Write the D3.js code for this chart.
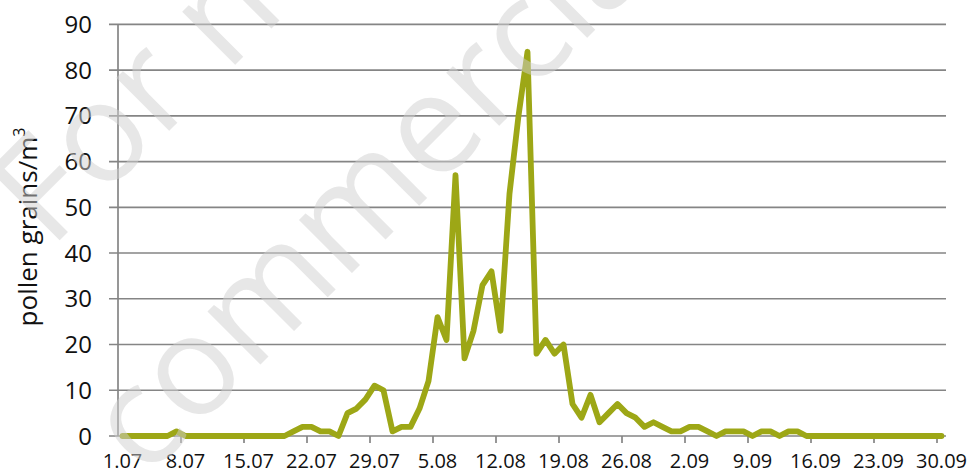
<!DOCTYPE html>
<html>
<head>
<meta charset="utf-8">
<script src="https://cdn.jsdelivr.net/npm/d3@7"></script>
<style>
  html, body { margin: 0; padding: 0; background: #ffffff; }
  svg { display: block; }
</style>
</head>
<body>
<svg id="chart" width="968" height="472"></svg>
<script>
// ---- data ----
const startDate = "2000-07-01";
const endDate = "2000-10-01";
const tickLabels = ["1.07","8.07","15.07","22.07","29.07","5.08","12.08","19.08","26.08","2.09","9.09","16.09","23.09","30.09"];
const yTicks = [0,10,20,30,40,50,60,70,80,90];
const pollen = [
  0,0,0,0,0,0,1,0,0,0,0,0,0,0,0,0,0,0,0,
  1,2,2,1,1,0,5,6,8,11,10,1,2,2,6,12,26,21,57,17,23,33,36,23,53,70,84,
  18,21,18,20,7,4,9,3,5,7,5,4,2,3,2,1,1,2,2,1,0,1,1,1,0,1,1,0,1,1,
  0,0,0,0,0,0,0,0,0,0,0,0,0,0,0,0
];
const yTitle = "pollen grains/m";
const watermark = ["For non-", "commercial use"];

// ---- build categories ----
const fmt = d3.timeFormat("%-d.%m");
const days = d3.timeDay.range(new Date(startDate + "T00:00:00"), new Date(endDate + "T00:00:00")).map(fmt);
const data = days.map((d, i) => ({ day: d, value: pollen[i] }));

const svg = d3.select("#chart");
const mLeft = 118, mRight = 946, mTop = 24.3, mBottom = 436;

const x = d3.scaleBand().domain(days).range([mLeft, mRight]).padding(0);
const y = d3.scaleLinear().domain([0, 90]).range([mBottom, mTop]);
const bw = x.bandwidth();

const font = "'Open Sans', 'DejaVu Sans', sans-serif";
const gridColor = "#858585";
const textColor = "#111111";

// gridlines
svg.append("g").selectAll("line").data(yTicks).join("line")
  .attr("x1", mLeft - 9).attr("x2", mRight)
  .attr("y1", d => y(d)).attr("y2", d => y(d))
  .attr("stroke", gridColor).attr("stroke-width", 1.7);

// y axis line
svg.append("line")
  .attr("x1", mLeft).attr("x2", mLeft)
  .attr("y1", y(90)).attr("y2", y(0))
  .attr("stroke", gridColor).attr("stroke-width", 1.7);

// y labels
svg.append("g").selectAll("text").data(yTicks).join("text")
  .attr("x", 92).attr("y", d => y(d)).attr("dy", "0.36em")
  .attr("text-anchor", "end")
  .attr("font-family", font).attr("font-size", 24).attr("fill", textColor)
  .text(d => d);

// x ticks at category boundaries every 7 days
const tickIdx = tickLabels.map(t => days.indexOf(t)).filter(i => i > 0);
svg.append("g").selectAll("line").data(tickIdx).join("line")
  .attr("x1", i => x(days[i])).attr("x2", i => x(days[i]))
  .attr("y1", mBottom).attr("y2", mBottom + 7)
  .attr("stroke", gridColor).attr("stroke-width", 1.7);

// x labels
svg.append("g").selectAll("text").data(tickLabels).join("text")
  .attr("x", t => x(t) + bw / 2).attr("y", 468)
  .attr("text-anchor", "middle")
  .attr("font-family", font).attr("font-size", 20).attr("fill", textColor)
  .text(t => t);

// y title
const yt = svg.append("text")
  .attr("transform", "translate(37,227) rotate(-90)")
  .attr("text-anchor", "middle")
  .attr("font-family", font).attr("font-size", 26).attr("fill", textColor);
yt.append("tspan").text(yTitle);
yt.append("tspan").attr("font-size", 16).attr("dy", "-0.75em").text("3");

// line
const line = d3.line().x(d => x(d.day) + bw / 2).y(d => y(d.value)).curve(d3.curveLinear);
svg.append("path").datum(data)
  .attr("d", line)
  .attr("fill", "none")
  .attr("stroke", "#9da716")
  .attr("stroke-width", 5.8)
  .attr("stroke-linejoin", "round")
  .attr("stroke-linecap", "round");

// watermark
const wm = svg.append("g").attr("font-family", font).attr("font-size", 140)
  .attr("fill", "#cfcfcf").attr("fill-opacity", 0.5);
wm.append("text").attr("transform", "translate(50,250) rotate(-45)").text(watermark[0]);
wm.append("text").attr("transform", "translate(145,480) rotate(-45)").text(watermark[1]);
</script>
</body>
</html>
